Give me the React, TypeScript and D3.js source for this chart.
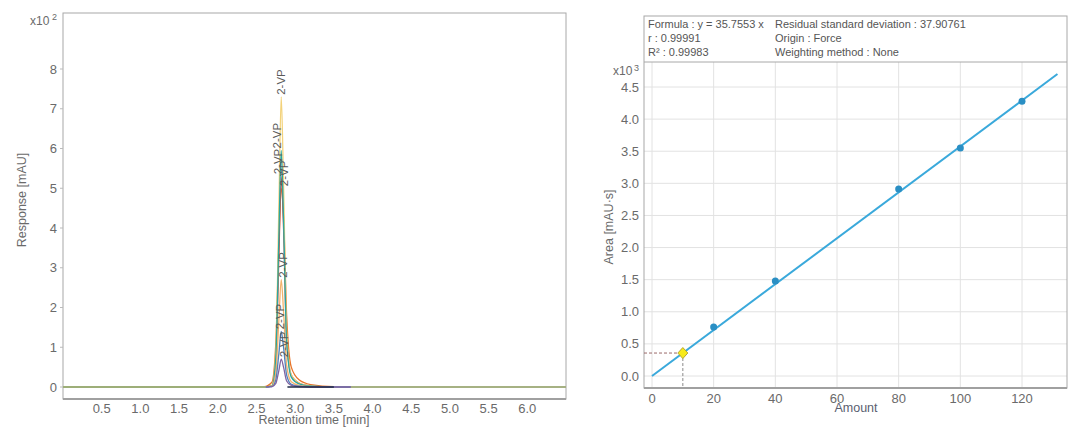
import React from "react";
import * as d3 from "d3";

// ---------- Chromatogram data (response in x10^2 mAU) ----------
const peakTimes = [0, 2.6, 2.7, 2.75, 2.79, 2.82, 2.85, 2.89, 2.95, 3.05, 3.2, 3.5, 6.5];
const traceYellow = [0, 0, 0.04, 0.9, 4.6, 7.3, 5.1, 1.4, 0.3, 0.1, 0.03, 0, 0];
const traceTeal = [0, 0, 0.03, 0.75, 3.8, 5.95, 4.2, 1.15, 0.25, 0.08, 0.02, 0, 0];
const traceRed = [0, 0, 0.03, 0.65, 3.3, 5.3, 4.0, 1.2, 0.3, 0.1, 0.03, 0, 0];
const traceOrange = [0, 0.01, 0.12, 1.1, 3.6, 5.0, 4.3, 1.8, 0.5, 0.18, 0.06, 0.01, 0];
const traceLightOrange = [0, 0, 0.02, 0.35, 1.7, 2.7, 1.9, 0.55, 0.13, 0.04, 0.01, 0, 0];
const traceBlue = [0, 0, 0.01, 0.18, 0.85, 1.4, 1.0, 0.3, 0.07, 0.02, 0.01, 0, 0];
const tracePurple = [0, 0, 0.01, 0.09, 0.42, 0.7, 0.5, 0.15, 0.04, 0.01, 0, 0, 0];
const traceColors = ["#e8742a", "#c0504d", "#f3d27a", "#2aa7a0", "#f2b36b", "#4f81bd", "#8064a2"];
const traceNames = ["orange", "red", "yellow", "teal", "lightOrange", "blue", "purple"];
const traceValues = [traceOrange, traceRed, traceYellow, traceTeal, traceLightOrange, traceBlue, tracePurple];
const peakLabel = "2-VP";
const baselineTimes = [0, 2.62, 3.72, 6.5];
const tailTimes = [2.9, 3.5];
const leftXTicks = [0.5, 1.0, 1.5, 2.0, 2.5, 3.0, 3.5, 4.0, 4.5, 5.0, 5.5, 6.0];
const leftYTicks = [0, 1, 2, 3, 4, 5, 6, 7, 8];

// ---------- Calibration data ----------
const calAmounts = [20, 40, 80, 100, 120];
const calAreas = [763, 1480, 2910, 3550, 4280];
const slope = 35.7553;
const lineRange = [0, 131.5];
const sampleAmount = 10;
const sampleArea = 357.55;
const rightXTicks = [0, 20, 40, 60, 80, 100, 120];
const rightYTicks = [0, 0.5, 1.0, 1.5, 2.0, 2.5, 3.0, 3.5, 4.0, 4.5];
const infoCol1 = ["Formula : y = 35.7553 x", "r : 0.99991", "R² : 0.99983"];
const infoCol2 = ["Residual standard deviation : 37.90761", "Origin : Force", "Weighting method : None"];

const FONT = "'Liberation Sans', Arial, sans-serif";
const TXT = "#6a6a6a";

export default function App() {
  // Left chart scales
  const lx = d3.scaleLinear().domain([0, 6.5]).range([63, 566]);
  const ly = d3.scaleLinear().domain([0, 8]).range([387, 69]);
  const line = d3
    .line<[number, number]>()
    .x((d) => lx(d[0]))
    .y((d) => ly(d[1]))
    .curve(d3.curveMonotoneX);

  // Right chart scales
  const rx = d3.scaleLinear().domain([0, 120]).range([652, 1022]);
  const ry = d3.scaleLinear().domain([0, 4.5]).range([376, 87]);
  const rBox = { x0: 644, x1: 1067, y0: 16, ySep: 62, y1: 388 };

  const labelOffsets = [3, -3, 0, -4, 2, -1, 3];

  return (
    <svg
      width={1080}
      height={429}
      style={{ position: "absolute", left: 0, top: 0, background: "#fff" }}
      fontFamily={FONT}
    >
      <rect width={1080} height={429} fill="#fff" />
      {/* ===== Left chart ===== */}
      <rect x={63} y={13} width={503} height={386} fill="none" stroke="#a8a8a8" strokeWidth={1} />
      <line x1={63} x2={566} y1={399} y2={399} stroke="#a0a0a0" strokeWidth={2} />
      <text x={30} y={25} fontSize={12} fill={TXT}>
        x10
      </text>
      <text x={52} y={20} fontSize={9} fill={TXT}>
        2
      </text>
      {leftYTicks.map((t) => (
        <g key={"ly" + t}>
          <line x1={60} x2={63} y1={ly(t)} y2={ly(t)} stroke="#bbb" />
          <text x={57} y={ly(t) + 4.5} fontSize={13} textAnchor="end" fill={TXT}>
            {t}
          </text>
        </g>
      ))}
      {leftXTicks.map((t) => (
        <text key={"lx" + t} x={lx(t)} y={413} fontSize={13} textAnchor="middle" fill={TXT}>
          {t.toFixed(1)}
        </text>
      ))}
      <text x={314} y={424} fontSize={12.5} textAnchor="middle" fill={TXT}>
        Retention time [min]
      </text>
      <text
        transform={`translate(26,200) rotate(-90)`}
        fontSize={12.5}
        textAnchor="middle"
        fill={TXT}
      >
        Response [mAU]
      </text>
      {traceValues.map((vals, i) => (
        <path
          key={traceNames[i]}
          d={line(peakTimes.map((t, j) => [t, vals[j]]) as [number, number][]) || ""}
          stroke={traceColors[i]}
          strokeWidth={1.3}
          fill="none"
        />
      ))}
      {/* baseline segments drawn on top */}
      <line x1={lx(baselineTimes[0])} x2={lx(baselineTimes[1])} y1={ly(0)} y2={ly(0)} stroke="#a9c46a" strokeWidth={1.6} />
      <line x1={lx(baselineTimes[2])} x2={lx(baselineTimes[3])} y1={ly(0)} y2={ly(0)} stroke="#b5c878" strokeWidth={1.6} />
      <line x1={lx(tailTimes[0])} x2={lx(tailTimes[1])} y1={ly(0)} y2={ly(0)} stroke="#1f2a44" strokeWidth={1.5} />
      {traceValues.map((vals, i) => {
        const peak = d3.max(vals) as number;
        const px = lx(peakTimes[vals.indexOf(peak)]) + labelOffsets[i];
        return (
          <text
            key={"lab" + i}
            transform={`translate(${px + 4},${ly(peak) - 2}) rotate(-90)`}
            fontSize={11.5}
            fill="#5a5a5a"
          >
            {peakLabel}
          </text>
        );
      })}

      {/* ===== Right chart ===== */}
      {rightXTicks.map((t) => (
        <line key={"gx" + t} x1={rx(t)} x2={rx(t)} y1={rBox.ySep} y2={rBox.y1} stroke="#e2e2e2" />
      ))}
      {rightYTicks.map((t) => (
        <line key={"gy" + t} x1={rBox.x0} x2={rBox.x1} y1={ry(t)} y2={ry(t)} stroke="#e2e2e2" />
      ))}
      <rect
        x={rBox.x0}
        y={rBox.y0}
        width={rBox.x1 - rBox.x0}
        height={rBox.y1 - rBox.y0}
        fill="none"
        stroke="#a8a8a8"
      />
      <line x1={rBox.x0} x2={rBox.x1} y1={rBox.y1} y2={rBox.y1} stroke="#a0a0a0" strokeWidth={2} />
      <line x1={rBox.x0} x2={rBox.x1} y1={rBox.ySep} y2={rBox.ySep} stroke="#a8a8a8" />
      {infoCol1.map((s, i) => (
        <text key={"c1" + i} x={648} y={28 + i * 14} fontSize={11} fill="#555">
          {s}
        </text>
      ))}
      {infoCol2.map((s, i) => (
        <text key={"c2" + i} x={775} y={28 + i * 14} fontSize={11} fill="#555">
          {s}
        </text>
      ))}
      <text x={613} y={75} fontSize={12} fill={TXT}>
        x10
      </text>
      <text x={634} y={71} fontSize={9} fill={TXT}>
        3
      </text>
      {rightYTicks.map((t) => (
        <text key={"ry" + t} x={639} y={ry(t) + 4.5} fontSize={13} textAnchor="end" fill={TXT}>
          {t.toFixed(1)}
        </text>
      ))}
      {rightXTicks.map((t) => (
        <text key={"rx" + t} x={rx(t)} y={403} fontSize={13} textAnchor="middle" fill={TXT}>
          {t}
        </text>
      ))}
      <text x={856} y={412} fontSize={12.5} textAnchor="middle" fill="#5a6070">
        Amount
      </text>
      <text
        transform={`translate(613,227) rotate(-90)`}
        fontSize={12.5}
        textAnchor="middle"
        fill={TXT}
      >
        Area [mAU·s]
      </text>
      {/* regression line */}
      <line
        x1={rx(lineRange[0])}
        y1={ry((lineRange[0] * slope) / 1000)}
        x2={rx(lineRange[1])}
        y2={ry((lineRange[1] * slope) / 1000)}
        stroke="#3aa9db"
        strokeWidth={2}
      />
      {/* sample dashed guides */}
      <line
        x1={rBox.x0}
        x2={rx(sampleAmount)}
        y1={ry(sampleArea / 1000)}
        y2={ry(sampleArea / 1000)}
        stroke="#9a6a6a"
        strokeDasharray="3,2"
      />
      <line
        x1={rx(sampleAmount)}
        x2={rx(sampleAmount)}
        y1={ry(sampleArea / 1000)}
        y2={rBox.y1}
        stroke="#8a8a8a"
        strokeDasharray="3,2"
      />
      {calAmounts.map((a, i) => (
        <circle key={"pt" + i} cx={rx(a)} cy={ry(calAreas[i] / 1000)} r={3.5} fill="#2a8fc4" />
      ))}
      <path
        transform={`translate(${rx(sampleAmount)},${ry(sampleArea / 1000)})`}
        d="M0,-5.5L5,0L0,5.5L-5,0Z"
        fill="#f7ea1a"
        stroke="#b8a830"
        strokeWidth={1}
      />
    </svg>
  );
}
